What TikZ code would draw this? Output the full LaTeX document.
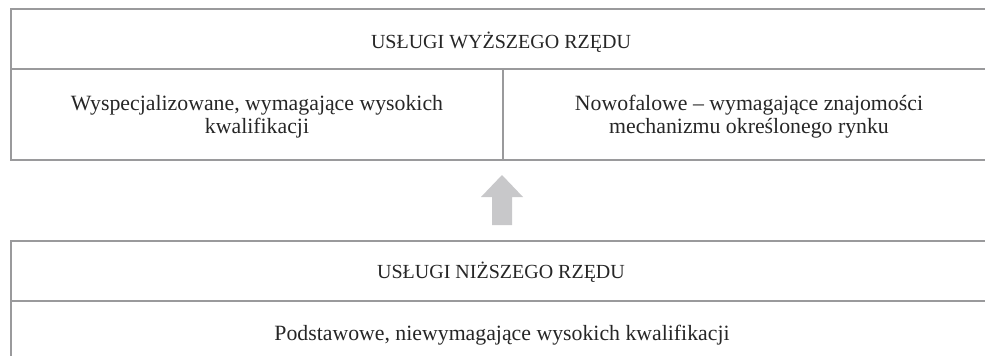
\documentclass[tikz,border=0pt]{standalone}
\usepackage{fontspec}
\setmainfont{Liberation Serif}
\definecolor{rulegray}{HTML}{9A9A9C}
\definecolor{arrowgray}{HTML}{C8C8CA}
\tikzset{
  rule/.style={draw=rulegray,line width=1.6pt},
  txt/.style={font=\fontsize{21.8}{23}\selectfont,text=black!85,align=center,anchor=base},
  head/.style={txt,font=\fontsize{20}{23}\selectfont}
}
\begin{document}
\begin{tikzpicture}[x=1pt,y=-1pt]
  \useasboundingbox (0,0) rectangle (985,356);
  % upper table
  \draw[rule] (985,9) -- (11,9) -- (11,160) -- (985,160);
  \draw[rule] (11,69) -- (985,69);
  \draw[rule] (503,69) -- (503,160);
  \node[head] (upper) at (501,48) {USŁUGI WYŻSZEGO RZĘDU};
  \node[txt] (special) at (257,133) {Wyspecjalizowane, wymagające wysokich\\kwalifikacji};
  \node[txt] (newwave) at (749,133) {Nowofalowe – wymagające znajomości\\mechanizmu określonego rynku};
  % arrow
  \fill[arrowgray] (502,175) -- (523,197) -- (512,197) -- (512,225) -- (492,225)
    -- (492,197) -- (481,197) -- cycle;
  % lower table
  \draw[rule] (985,241) -- (11,241) -- (11,356);
  \draw[rule] (11,301) -- (985,301);
  \node[head] (lower) at (501,278) {USŁUGI NIŻSZEGO RZĘDU};
  \node[txt] (basic) at (502,340) {Podstawowe, niewymagające wysokich kwalifikacji};
\end{tikzpicture}
\end{document}
